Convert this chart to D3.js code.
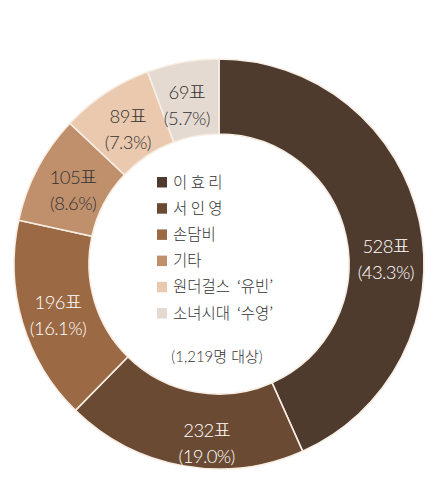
<!DOCTYPE html>
<html><head><meta charset="utf-8">
<script src="https://cdn.jsdelivr.net/npm/d3@7"></script>
<style>
html,body{margin:0;padding:0;background:#fff;}
svg{display:block;font-family:"Noto Sans CJK KR","Noto Sans",sans-serif;}
.num{font-family:"Lato","Noto Sans CJK KR",sans-serif;}
</style></head>
<body>
<script>
const names = ["이 효 리","서 인 영","손담비","기타","원더걸스 ‘유빈’","소녀시대 ‘수영’"];
const votes = [528,232,196,105,89,69];
const percents = ["43.3%","19.0%","16.1%","8.6%","7.3%","5.7%"];
const colors = ["#4f3b2e","#6a4a33","#9b6944","#c0906c","#eac9ae","#e5dad1"];
const labelColors = ["#fff","#fff","#fff","#333","#333","#333"];
const total = "1,219";

const W = 438, H = 480;
const cx = 219, cy = 264, R = 205, r = 130;
// label placement tweak: fraction within slice and radius
const labelFrac = [0.56,0.41,0.5,0.5,0.5,0.45];
const labelRad = [167,176,168,165,165,165];

const svg = d3.select("body").append("svg").attr("width",W).attr("height",H);
const g = svg.append("g").attr("transform",`translate(${cx},${cy})`);

const pie = d3.pie().sort(null).value(d=>d);
const arcs = pie(votes);
const arc = d3.arc().innerRadius(r).outerRadius(R);

g.selectAll("path.slice").data(arcs).join("path")
  .attr("class","slice")
  .attr("d",arc)
  .attr("fill",(d,i)=>colors[i])
  .attr("stroke","#f7eee4")
  .attr("stroke-width",1.6);

const lab = g.selectAll("g.lab").data(arcs).join("g").attr("class","lab num")
  .attr("transform",(d,i)=>{
    const a = d.startAngle + (d.endAngle-d.startAngle)*labelFrac[i];
    return `translate(${labelRad[i]*Math.sin(a)},${-labelRad[i]*Math.cos(a)})`;
  });
lab.append("text").attr("text-anchor","middle").attr("y",-3)
  .attr("font-size",18.5).attr("font-weight",300).attr("fill",(d,i)=>labelColors[i])
  .attr("letter-spacing",-0.6)
  .text((d,i)=>votes[i]+"표");
lab.append("text").attr("text-anchor","middle").attr("y",23)
  .attr("font-size",18.5).attr("font-weight",300).attr("fill",(d,i)=>labelColors[i])
  .attr("letter-spacing",-0.6)
  .text((d,i)=>"("+percents[i]+")");

const leg = svg.append("g");
const ly = d3.scalePoint().domain(d3.range(names.length)).range([182,313]);
const rows = leg.selectAll("g").data(names).join("g")
  .attr("transform",(d,i)=>`translate(157,${ly(i)})`);
rows.append("rect").attr("x",0).attr("y",-5).attr("width",10).attr("height",10.5)
  .attr("fill",(d,i)=>colors[i]);
rows.append("text").attr("x",16).attr("y",5.5).attr("font-size",15.5).attr("font-weight",300)
  .attr("fill","#333").attr("xml:space","preserve").text(d=>d.replace(" ‘","  ‘"));

svg.append("text").attr("class","num").attr("x",217).attr("y",362).attr("text-anchor","middle")
  .attr("font-size",15).attr("font-weight",300).attr("fill","#333")
  .text(`(${total}명 대상)`);
</script>
</body></html>
